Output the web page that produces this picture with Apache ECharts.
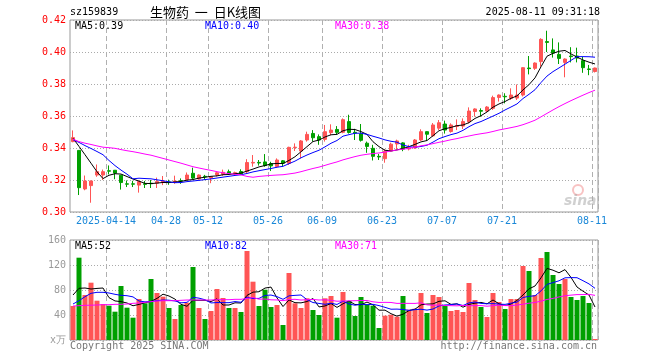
<!DOCTYPE html>
<html><head><meta charset="utf-8">
<script src="https://cdn.jsdelivr.net/npm/echarts@6/dist/echarts.min.js"></script>
<style>html,body{margin:0;padding:0;background:#fff}#c{width:660px;height:360px}</style>
</head><body><div id="c"></div>
<script>
const dates = ['2025-04-03','2025-04-07','2025-04-08','2025-04-09','2025-04-10','2025-04-11','2025-04-14','2025-04-15','2025-04-16','2025-04-17','2025-04-18','2025-04-21','2025-04-22','2025-04-23','2025-04-24','2025-04-25','2025-04-28','2025-04-29','2025-04-30','2025-05-06','2025-05-07','2025-05-08','2025-05-09','2025-05-12','2025-05-13','2025-05-14','2025-05-15','2025-05-16','2025-05-19','2025-05-20','2025-05-21','2025-05-22','2025-05-23','2025-05-26','2025-05-27','2025-05-28','2025-05-29','2025-05-30','2025-06-03','2025-06-04','2025-06-05','2025-06-06','2025-06-09','2025-06-10','2025-06-11','2025-06-12','2025-06-13','2025-06-16','2025-06-17','2025-06-18','2025-06-19','2025-06-20','2025-06-23','2025-06-24','2025-06-25','2025-06-26','2025-06-27','2025-06-30','2025-07-01','2025-07-02','2025-07-03','2025-07-04','2025-07-07','2025-07-08','2025-07-09','2025-07-10','2025-07-11','2025-07-14','2025-07-15','2025-07-16','2025-07-17','2025-07-18','2025-07-21','2025-07-22','2025-07-23','2025-07-24','2025-07-25','2025-07-28','2025-07-29','2025-07-30','2025-07-31','2025-08-01','2025-08-04','2025-08-05','2025-08-06','2025-08-07','2025-08-08','2025-08-11'];
const tickDates = ['2025-04-14','2025-04-28','2025-05-12','2025-05-26','2025-06-09','2025-06-23','2025-07-07','2025-07-21','2025-08-11'];

const opens = [0.3440,0.3385,0.3144,0.3165,0.3231,0.3231,0.3258,0.3261,0.3230,0.3176,0.3176,0.3168,0.3176,0.3180,0.3180,0.3186,0.3188,0.3185,0.3196,0.3203,0.3242,0.3206,0.3223,0.3212,0.3232,0.3236,0.3252,0.3237,0.3253,0.3252,0.3306,0.3310,0.3313,0.3303,0.3284,0.3320,0.3304,0.3402,0.3381,0.3450,0.3491,0.3471,0.3454,0.3496,0.3516,0.3498,0.3565,0.3498,0.3488,0.3430,0.3398,0.3348,0.3333,0.3382,0.3425,0.3432,0.3394,0.3400,0.3450,0.3502,0.3476,0.3524,0.3550,0.3503,0.3535,0.3537,0.3564,0.3628,0.3634,0.3631,0.3648,0.3716,0.3723,0.3711,0.3712,0.3731,0.3900,0.3898,0.3940,0.4065,0.4013,0.3985,0.3935,0.3975,0.3975,0.3946,0.3894,0.3878];
const closes = [0.3465,0.3152,0.3194,0.3194,0.3252,0.3252,0.3255,0.3243,0.3184,0.3174,0.3174,0.3190,0.3173,0.3177,0.3190,0.3193,0.3185,0.3193,0.3193,0.3231,0.3212,0.3231,0.3220,0.3221,0.3245,0.3248,0.3238,0.3246,0.3238,0.3309,0.3310,0.3306,0.3290,0.3288,0.3325,0.3305,0.3404,0.3405,0.3444,0.3485,0.3464,0.3450,0.3502,0.3512,0.3498,0.3577,0.3497,0.3493,0.3448,0.3410,0.3348,0.3344,0.3380,0.3424,0.3444,0.3393,0.3402,0.3450,0.3502,0.3486,0.3544,0.3558,0.3512,0.3544,0.3540,0.3565,0.3631,0.3644,0.3630,0.3656,0.3715,0.3731,0.3720,0.3731,0.3731,0.3902,0.3896,0.3931,0.4079,0.4060,0.3993,0.3960,0.3956,0.3971,0.3962,0.3902,0.3891,0.3900];
const highs = [0.3510,0.3385,0.3228,0.3196,0.3297,0.3265,0.3291,0.3262,0.3230,0.3197,0.3195,0.3196,0.3194,0.3200,0.3215,0.3225,0.3202,0.3227,0.3210,0.3247,0.3277,0.3235,0.3232,0.3225,0.3250,0.3265,0.3265,0.3252,0.3267,0.3330,0.3356,0.3325,0.3362,0.3314,0.3335,0.3325,0.3408,0.3429,0.3450,0.3502,0.3512,0.3485,0.3544,0.3548,0.3537,0.3585,0.3608,0.3520,0.3550,0.3440,0.3420,0.3363,0.3392,0.3433,0.3452,0.3436,0.3420,0.3456,0.3517,0.3504,0.3556,0.3575,0.3571,0.3554,0.3579,0.3585,0.3654,0.3648,0.3648,0.3662,0.3727,0.3735,0.3742,0.3773,0.3797,0.3905,0.3975,0.3935,0.4086,0.4133,0.4085,0.4060,0.3960,0.4030,0.4027,0.3970,0.3919,0.3902];
const lows = [0.3436,0.3106,0.3136,0.3058,0.3220,0.3200,0.3235,0.3205,0.3140,0.3156,0.3156,0.3121,0.3150,0.3150,0.3150,0.3168,0.3170,0.3176,0.3176,0.3198,0.3205,0.3203,0.3202,0.3180,0.3222,0.3226,0.3232,0.3230,0.3232,0.3242,0.3283,0.3290,0.3283,0.3256,0.3277,0.3283,0.3294,0.3381,0.3335,0.3440,0.3440,0.3420,0.3440,0.3480,0.3485,0.3492,0.3490,0.3450,0.3440,0.3370,0.3322,0.3325,0.3308,0.3378,0.3390,0.3380,0.3385,0.3395,0.3444,0.3444,0.3470,0.3512,0.3490,0.3496,0.3512,0.3519,0.3554,0.3596,0.3596,0.3623,0.3638,0.3690,0.3679,0.3700,0.3700,0.3722,0.3860,0.3888,0.3908,0.4000,0.3965,0.3925,0.3842,0.3935,0.3935,0.3870,0.3855,0.3872];
// volume, unit: 万
const volumes = [54.4,131.7,72,91.7,62.9,57.6,54.9,45.3,86.4,51.7,35.7,65.6,58.7,97.6,75.2,69.3,51.2,33.6,56,59.7,116.8,51.2,33.6,46.4,81.6,67.2,51.2,51.2,44.8,142.4,93.3,54.4,80.5,52.8,56,24,107.2,58.7,51.2,66.7,48,40,66.7,70.4,35.7,76.8,62.4,38.4,68.8,57.1,54.9,19.2,38.9,40.5,37.3,70.4,48.5,50.1,75.2,43.2,72,68.8,54.4,46.4,48,44.8,91.2,64,52.8,36.8,75.2,60.8,49.6,65.6,65.6,118.4,110.4,72,131.2,140.8,104,89.6,97.6,68.8,64,70.4,59.2,1.6];

// moving-average values at the first bars (window reaches before the chart)
const ma5Head = [0.3461,0.3410,0.3358,0.3305];
const ma10Head = [0.3452,0.3435,0.3415,0.3397,0.3378,0.3358,0.3322,0.3290,0.3262];
const ma30Head = [0.3455,0.3440,0.3430,0.3422,0.3413,0.3405,0.3402,0.3398,0.3390,0.3383,0.3377,0.3370,0.3362,0.3355,0.3345,0.3335,0.3325,0.3315,0.3305,0.3294,0.3283,0.3275,0.3267,0.3260,0.3252,0.3245,0.3240,0.3236,0.3232];
const vma5Head = [72,82.7,83.2,81.6];
const vma10Head = [57.6,62.9,69.3,74.7,76.3,76.3,75.2,73.1,71.5];
const vma30Head = [54.4,54.9,55.5,55.7,56,56.5,56.5,57.1,57.1,57.6,58.7,59.2,60.3,61.3,62.4,62.9,62.9,62.9,63.5,64,64,64,64,64,64.5,64.5,64.5,65.1,65.1];

const priceTicks = [0.30,0.42,0.02];
const volTicks = [0,160,40];
const legendPrice = ['MA5:0.39','MA10:0.40','MA30:0.38'];
const legendVol = ['MA5:52','MA10:82','MA30:71'];

function movingAvg(src, n, head) {
  return src.map((v, i) => {
    if (i < n - 1) return head[i];
    let s = 0; for (let k = i - n + 1; k <= i; k++) s += src[k];
    return +(s / n).toFixed(5);
  });
}
const UP = '#ff5555', DOWN = '#00a000';
const MONO = 'DejaVu Sans Mono';
const candle = dates.map((d, i) => [opens[i], closes[i], lows[i], highs[i]]);
const volData = volumes.map((v, i) => ({value: v, itemStyle: {color: closes[i] > opens[i] ? UP : DOWN}}));
const isTick = (i, v) => tickDates.indexOf(v) >= 0;

const chart = echarts.init(document.getElementById('c'), null, {renderer: 'canvas'});
const txt = (text, x, y, fill, font, align) => ({type: 'text', x: x, y: y, z: 100, silent: true,
  style: {text: text, fill: fill, font: font, align: align || 'left', verticalAlign: 'middle', textAlign: align || 'left', textVerticalAlign: 'middle'}});
const lineS = (name, data, color, xi) => ({name: name, type: 'line', data: data, xAxisIndex: xi, yAxisIndex: xi,
  showSymbol: false, symbol: 'none', smooth: false, z: 5, lineStyle: {color: color, width: 1}, itemStyle: {color: color}});

chart.setOption({
  animation: false,
  backgroundColor: '#fff',
  grid: [
    {left: 70, top: 20, width: 528, height: 192, show: true, borderColor: '#999', borderWidth: 1},
    {left: 70, top: 240, width: 528, height: 100, show: true, borderColor: '#999', borderWidth: 1}
  ],
  xAxis: [
    {type: 'category', gridIndex: 0, data: dates, boundaryGap: true,
     axisLine: {show: false}, axisTick: {show: false},
     axisLabel: {interval: isTick, margin: 4, color: '#1a88d8', fontFamily: MONO, fontSize: 10, padding: [0, 6, 0, 0],
       formatter: (v) => v === tickDates[0] ? v : v.slice(5)},
     splitLine: {show: true, interval: isTick, lineStyle: {color: '#b0b0b0', width: 1, type: [5, 3]}}},
    {type: 'category', gridIndex: 1, data: dates, boundaryGap: true,
     axisLine: {show: false}, axisTick: {show: false}, axisLabel: {show: false},
     splitLine: {show: true, interval: isTick, lineStyle: {color: '#b0b0b0', width: 1, type: [5, 3]}}}
  ],
  yAxis: [
    {type: 'value', gridIndex: 0, min: priceTicks[0], max: priceTicks[1], interval: priceTicks[2], scale: true,
     axisLine: {show: false}, axisTick: {show: false},
     axisLabel: {color: '#f00', fontFamily: MONO, fontSize: 10, margin: 4, formatter: (v) => v.toFixed(2)},
     splitLine: {show: true, lineStyle: {color: '#aaa', width: 1, type: [1, 2]}}},
    {type: 'value', gridIndex: 1, min: volTicks[0], max: volTicks[1], interval: volTicks[2],
     axisLine: {show: false}, axisTick: {show: false},
     axisLabel: {color: '#999', fontFamily: MONO, fontSize: 10, margin: 4, formatter: (v) => v === 0 ? 'x万' : String(v)},
     splitLine: {show: true, lineStyle: {color: '#aaa', width: 1, type: [1, 2]}}}
  ],
  series: [
    {type: 'candlestick', xAxisIndex: 0, yAxisIndex: 0, data: candle, barWidth: 4,
     itemStyle: {color: UP, color0: DOWN, borderColor: UP, borderColor0: DOWN, borderWidth: 1}},
    lineS('MA5', movingAvg(closes, 5, ma5Head), '#000', 0),
    lineS('MA10', movingAvg(closes, 10, ma10Head), '#0000ff', 0),
    lineS('MA30', movingAvg(closes, 30, ma30Head), '#ff00ff', 0),
    {type: 'bar', xAxisIndex: 1, yAxisIndex: 1, data: volData, barWidth: 5},
    lineS('VMA5', movingAvg(volumes, 5, vma5Head), '#000', 1),
    lineS('VMA10', movingAvg(volumes, 10, vma10Head), '#0000ff', 1),
    lineS('VMA30', movingAvg(volumes, 30, vma30Head), '#ff00ff', 1)
  ],
  graphic: [
    txt('sz159839', 70, 12, '#000', '10px "DejaVu Sans Mono"'),
    txt('生物药  一  日K线图', 150, 12, '#000', '13px "Noto Sans CJK SC"'),
    txt('2025-08-11 09:31:18', 600, 12, '#000', '10px "DejaVu Sans Mono"', 'right'),
    txt(legendPrice[0], 75, 26, '#000', '10px "DejaVu Sans Mono"'),
    txt(legendPrice[1], 205, 26, '#0000ff', '10px "DejaVu Sans Mono"'),
    txt(legendPrice[2], 335, 26, '#ff00ff', '10px "DejaVu Sans Mono"'),
    txt(legendVol[0], 75, 246, '#000', '10px "DejaVu Sans Mono"'),
    txt(legendVol[1], 205, 246, '#0000ff', '10px "DejaVu Sans Mono"'),
    txt(legendVol[2], 335, 246, '#ff00ff', '10px "DejaVu Sans Mono"'),
    txt('Copyright 2025 SINA.COM', 70, 346, '#777', '10px "DejaVu Sans Mono"'),
    txt('http://finance.sina.com.cn', 597, 346, '#777', '10px "DejaVu Sans Mono"', 'right'),
    {type: 'circle', shape: {cx: 578, cy: 190, r: 5}, z: 1, silent: true, style: {fill: 'none', stroke: 'rgba(240,120,120,0.45)', lineWidth: 2}},
    txt('sina', 564, 201, 'rgba(170,170,170,0.55)', 'italic bold 14px "DejaVu Sans"')
  ]
});
</script></body></html>
